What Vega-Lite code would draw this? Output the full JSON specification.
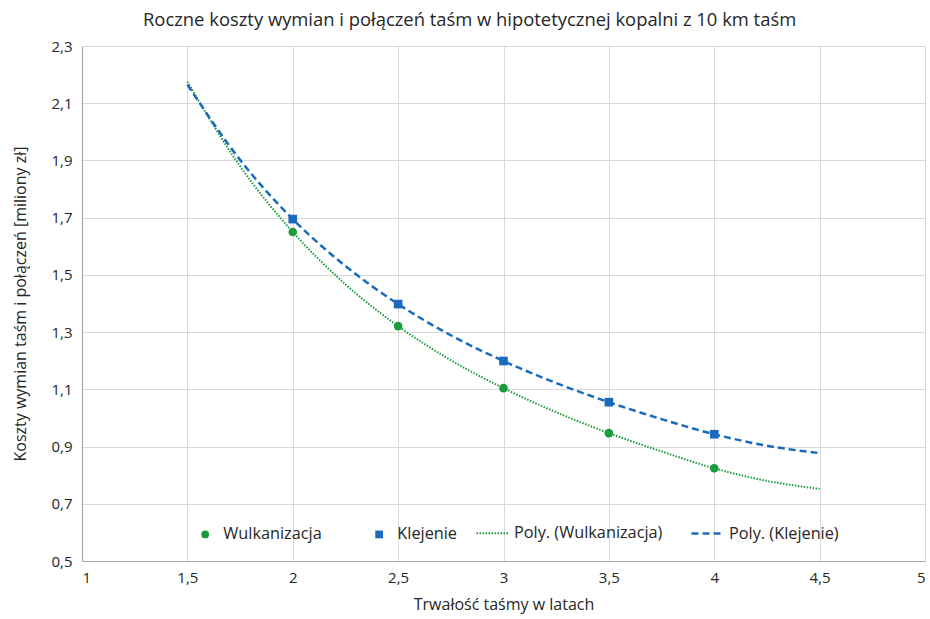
{
  "$schema": "https://vega.github.io/schema/vega-lite/v6.json",
  "autosize": "none",
  "width": 843,
  "height": 515,
  "padding": {"left": 82, "top": 46, "right": 5, "bottom": 58},
  "background": "white",
  "title": {
    "text": "Roczne koszty wymian i połączeń taśm w hipotetycznej kopalni z 10 km taśm",
    "anchor": "start",
    "frame": "group",
    "dx": 61,
    "offset": 10,
    "fontSize": 18.4,
    "fontWeight": "normal",
    "font": "Open Sans",
    "color": "#262626"
  },
  "datasets": {
    "pts": [
      {"lata": 2, "koszt": 1.65, "seria": "Wulkanizacja"},
      {"lata": 2.5, "koszt": 1.321, "seria": "Wulkanizacja"},
      {"lata": 3, "koszt": 1.104, "seria": "Wulkanizacja"},
      {"lata": 3.5, "koszt": 0.947, "seria": "Wulkanizacja"},
      {"lata": 4, "koszt": 0.824, "seria": "Wulkanizacja"},
      {"lata": 2, "koszt": 1.695, "seria": "Klejenie"},
      {"lata": 2.5, "koszt": 1.398, "seria": "Klejenie"},
      {"lata": 3, "koszt": 1.199, "seria": "Klejenie"},
      {"lata": 3.5, "koszt": 1.055, "seria": "Klejenie"},
      {"lata": 4, "koszt": 0.943, "seria": "Klejenie"}
    ],
    "trend": [
      {"lata": 1.5, "koszt": 2.175, "linia": "Poly. (Wulkanizacja)"},
      {"lata": 1.75, "koszt": 1.88, "linia": "Poly. (Wulkanizacja)"},
      {"lata": 2, "koszt": 1.65, "linia": "Poly. (Wulkanizacja)"},
      {"lata": 2.25, "koszt": 1.467, "linia": "Poly. (Wulkanizacja)"},
      {"lata": 2.5, "koszt": 1.321, "linia": "Poly. (Wulkanizacja)"},
      {"lata": 2.75, "koszt": 1.202, "linia": "Poly. (Wulkanizacja)"},
      {"lata": 3, "koszt": 1.104, "linia": "Poly. (Wulkanizacja)"},
      {"lata": 3.25, "koszt": 1.02, "linia": "Poly. (Wulkanizacja)"},
      {"lata": 3.5, "koszt": 0.947, "linia": "Poly. (Wulkanizacja)"},
      {"lata": 3.75, "koszt": 0.883, "linia": "Poly. (Wulkanizacja)"},
      {"lata": 4, "koszt": 0.824, "linia": "Poly. (Wulkanizacja)"},
      {"lata": 4.25, "koszt": 0.78, "linia": "Poly. (Wulkanizacja)"},
      {"lata": 4.5, "koszt": 0.752, "linia": "Poly. (Wulkanizacja)"},
      {"lata": 1.5, "koszt": 2.165, "linia": "Poly. (Klejenie)"},
      {"lata": 1.75, "koszt": 1.902, "linia": "Poly. (Klejenie)"},
      {"lata": 2, "koszt": 1.695, "linia": "Poly. (Klejenie)"},
      {"lata": 2.25, "koszt": 1.531, "linia": "Poly. (Klejenie)"},
      {"lata": 2.5, "koszt": 1.398, "linia": "Poly. (Klejenie)"},
      {"lata": 2.75, "koszt": 1.289, "linia": "Poly. (Klejenie)"},
      {"lata": 3, "koszt": 1.199, "linia": "Poly. (Klejenie)"},
      {"lata": 3.25, "koszt": 1.122, "linia": "Poly. (Klejenie)"},
      {"lata": 3.5, "koszt": 1.055, "linia": "Poly. (Klejenie)"},
      {"lata": 3.75, "koszt": 0.996, "linia": "Poly. (Klejenie)"},
      {"lata": 4, "koszt": 0.943, "linia": "Poly. (Klejenie)"},
      {"lata": 4.25, "koszt": 0.903, "linia": "Poly. (Klejenie)"},
      {"lata": 4.5, "koszt": 0.877, "linia": "Poly. (Klejenie)"}
    ]
  },
  "encoding": {
    "x": {
      "field": "lata",
      "type": "quantitative",
      "scale": {"domain": [1, 5], "nice": false, "zero": false},
      "axis": {
        "title": "Trwałość taśmy w latach",
        "values": [1, 1.5, 2, 2.5, 3, 3.5, 4, 4.5, 5],
        "labelExpr": "replace(format(datum.value, '~g'), '.', ',')",
        "tickSize": 0,
        "labelPadding": 9,
        "titlePadding": 11
      }
    },
    "y": {
      "field": "koszt",
      "type": "quantitative",
      "scale": {"domain": [0.5, 2.3], "nice": false, "zero": false},
      "axis": {
        "title": "Koszty wymian taśm i połączeń [miliony zł]",
        "values": [0.5, 0.7, 0.9, 1.1, 1.3, 1.5, 1.7, 1.9, 2.1, 2.3],
        "labelExpr": "replace(format(datum.value, '.1f'), '.', ',')",
        "tickSize": 0,
        "labelPadding": 10,
        "titlePadding": 22
      }
    }
  },
  "layer": [
    {
      "data": {"name": "trend"},
      "mark": {"type": "line", "interpolate": "monotone"},
      "encoding": {
        "stroke": {
          "field": "linia",
          "type": "nominal",
          "scale": {
            "domain": ["Poly. (Wulkanizacja)", "Poly. (Klejenie)"],
            "range": ["#1a9c3c", "#1b6bbd"]
          },
          "legend": {
            "title": null,
            "orient": "none",
            "legendX": 393,
            "legendY": 470,
            "direction": "horizontal",
            "columns": 2,
            "columnPadding": 23,
            "labelFontSize": 16.3,
            "labelFont": "Open Sans",
            "labelColor": "#262626",
            "labelOffset": 4,
            "symbolType": "stroke",
            "symbolSize": 1024,
            "symbolStrokeWidth": 2
          }
        },
        "strokeDash": {
          "field": "linia",
          "type": "nominal",
          "scale": {
            "domain": ["Poly. (Wulkanizacja)", "Poly. (Klejenie)"],
            "range": [[1.5, 1.5], [7, 4]]
          }
        },
        "strokeWidth": {
          "field": "linia",
          "type": "nominal",
          "legend": null,
          "scale": {
            "domain": ["Poly. (Wulkanizacja)", "Poly. (Klejenie)"],
            "range": [2, 2.5]
          }
        }
      }
    },
    {
      "data": {"name": "pts"},
      "mark": {"type": "point", "filled": true, "opacity": 1, "size": 75},
      "encoding": {
        "color": {
          "field": "seria",
          "type": "nominal",
          "scale": {
            "domain": ["Wulkanizacja", "Klejenie"],
            "range": ["#1a9c3c", "#1b6bbd"]
          },
          "legend": {
            "title": null,
            "orient": "none",
            "legendX": 115,
            "legendY": 480,
            "direction": "horizontal",
            "columns": 2,
            "columnPadding": 49,
            "labelFontSize": 16.3,
            "labelFont": "Open Sans",
            "labelColor": "#262626",
            "labelOffset": 10,
            "symbolSize": 60
          }
        },
        "shape": {
          "field": "seria",
          "type": "nominal",
          "scale": {
            "domain": ["Wulkanizacja", "Klejenie"],
            "range": ["circle", "square"]
          }
        }
      }
    }
  ],
  "config": {
    "view": {"stroke": null},
    "font": "Open Sans",
    "axis": {
      "labelFont": "Open Sans",
      "titleFont": "Open Sans",
      "labelFontSize": 15,
      "titleFontSize": 16,
      "titleFontWeight": "normal",
      "labelColor": "#262626",
      "titleColor": "#262626",
      "gridColor": "#d9d9d9",
      "domainColor": "#a6a6a6",
      "domainWidth": 1.2
    }
  }
}
